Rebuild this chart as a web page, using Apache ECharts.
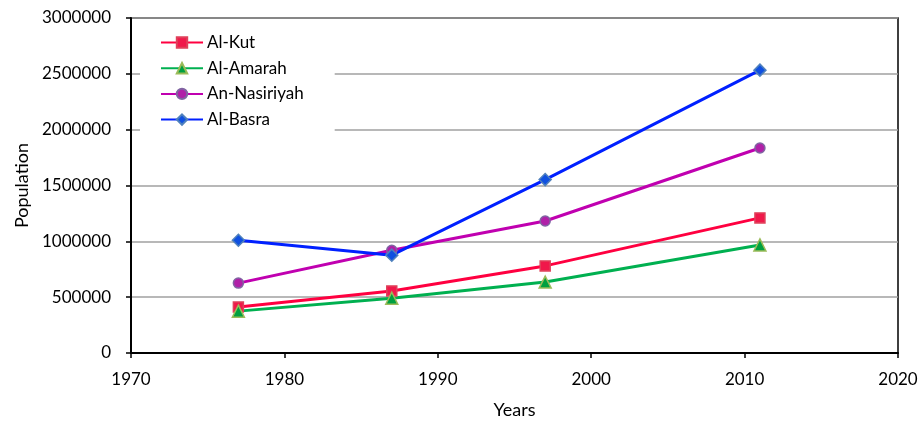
<!DOCTYPE html>
<html>
<head>
<meta charset="utf-8">
<script src="https://cdn.jsdelivr.net/npm/echarts@6/dist/echarts.min.js"></script>
<style>html,body{margin:0;padding:0;background:#fff}#c{width:922px;height:421px}</style>
</head>
<body>
<div id="c"></div>
<script>
var years = [1977, 1987, 1997, 2011];
var seriesNames = ['Al-Kut', 'Al-Amarah', 'An-Nasiriyah', 'Al-Basra'];
var alKut = [412000, 556000, 780000, 1210000];
var alAmarah = [375000, 490000, 635000, 968000];
var anNasiriyah = [626000, 920000, 1182000, 1836000];
var alBasra = [1010000, 876000, 1553000, 2533000];
var xTicks = [1970, 1980, 1990, 2000, 2010, 2020];
var yTicks = [0, 500000, 1000000, 1500000, 2000000, 2500000, 3000000];

function pairs(vals){ return years.map(function(y,i){ return [y, vals[i]]; }); }
var FONT = 'Lato';
var styles = [
  {line:'#FF0040', fill:'#F0184A', border:'#E0405A', symbol:'rect', size:10},
  {line:'#00B050', fill:'#00A040', border:'#9BBB59', symbol:'triangle', size:12},
  {line:'#C000B0', fill:'#B020A8', border:'#8064A2', symbol:'circle', size:10},
  {line:'#0020FF', fill:'#1050E0', border:'#4F81BD', symbol:'diamond', size:12}
];
var allVals = [alKut, alAmarah, anNasiriyah, alBasra];
var series = allVals.map(function(v, i){
  var s = styles[i];
  return {
    name: seriesNames[i], type:'line', data: pairs(v),
    symbol: s.symbol, symbolSize: s.size, showSymbol:true,
    lineStyle:{color:s.line, width:3},
    itemStyle:{color:s.fill, borderColor:s.border, borderWidth:1.5},
    z: 3
  };
});
var chart = echarts.init(document.getElementById('c'), null, {renderer:'canvas'});
chart.setOption({
  animation:false,
  backgroundColor:'#fff',
  textStyle:{fontFamily:FONT},
  grid:{left:131, right:24, top:18, bottom:68, outerBoundsMode:'none', containLabel:false,
        show:true, borderColor:'#000', borderWidth:1.5, backgroundColor:'transparent'},
  legend:{
    orient:'vertical', left:140, top:25, padding:[9,31,10,20],
    backgroundColor:'#fff', itemWidth:42, itemHeight:13, itemGap:8.7,
    textStyle:{fontFamily:FONT, fontSize:17, color:'#000', padding:[0,0,0,-1]},
    data: seriesNames, z: 10
  },
  xAxis:{
    type:'value', min:xTicks[0], max:xTicks[xTicks.length-1], interval:10,
    name:'Years', nameLocation:'middle', nameGap:48,
    nameTextStyle:{fontFamily:FONT, fontSize:18, color:'#000'},
    axisLine:{show:true, lineStyle:{color:'#000', width:2}},
    axisTick:{show:true, inside:false, length:5, lineStyle:{color:'#000', width:1.5}},
    axisLabel:{fontFamily:FONT, fontSize:17, color:'#000', margin:18, formatter:function(v){return String(v);}},
    splitLine:{show:false}
  },
  yAxis:{
    type:'value', min:yTicks[0], max:yTicks[yTicks.length-1], interval:500000,
    name:'Population', nameLocation:'middle', nameGap:100, nameRotate:90,
    nameTextStyle:{fontFamily:FONT, fontSize:18, color:'#000'},
    axisLine:{show:true, lineStyle:{color:'#000', width:2}},
    axisTick:{show:true, inside:false, length:5, lineStyle:{color:'#000', width:1.5}},
    axisLabel:{fontFamily:FONT, fontSize:17, color:'#000', margin:20, formatter:function(v){return String(v);}},
    splitLine:{show:true, lineStyle:{color:'#A0A0A0', width:1.5}}
  },
  series: series
});
</script>
</body>
</html>
